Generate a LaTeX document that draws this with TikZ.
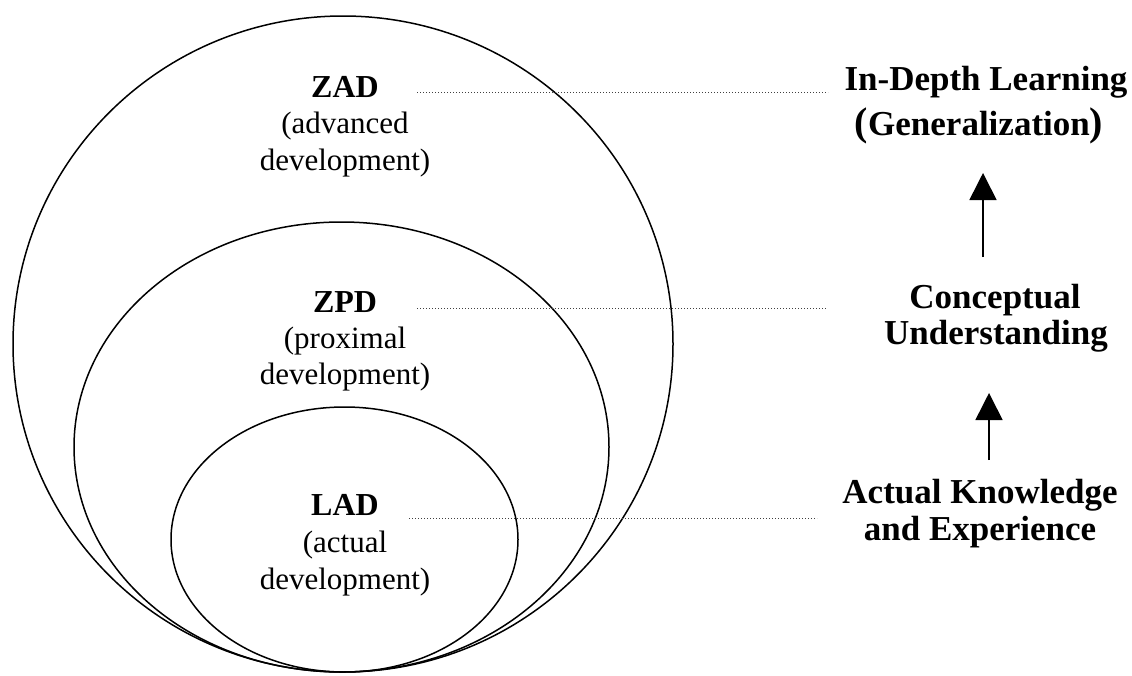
\documentclass[tikz,border=0pt]{standalone}
\usepackage{fontspec}
\setmainfont{Liberation Serif}
\usetikzlibrary{arrows.meta}
\newcommand{\bigparen}[1]{{\fontsize{40}{41}\selectfont #1}}
\begin{document}
\begin{tikzpicture}[x=1pt,y=-1pt,
  zone/.style={line width=1.5pt},
  tag/.style={font=\fontsize{32}{38}\selectfont\bfseries, anchor=base, inner sep=0pt},
  sub/.style={font=\fontsize{31}{37}\selectfont, anchor=base, inner sep=0pt},
  stage/.style={font=\fontsize{35}{41}\selectfont\bfseries, anchor=base, inner sep=0pt},
  dotline/.style={line width=1.2pt, black!75, dash pattern=on 1.3pt off 1.7pt},
  rise/.style={line width=1.6pt, -{Triangle[width=27pt,length=27pt]}}]
\useasboundingbox (0,0) rectangle (1132,675);

% nested zones, all touching at the bottom
\draw[zone] (343,344) ellipse [x radius=330pt, y radius=328pt];
\draw[zone] (341.5,447) ellipse [x radius=267.5pt, y radius=225pt];
\draw[zone] (344.5,539.5) ellipse [x radius=173.5pt, y radius=132.5pt];

% zone labels
\node[tag] (zad) at (345,97) {ZAD};
\node[sub] (zad1) at (345,133) {(advanced};
\node[sub] (zad2) at (345,170) {development)};

\node[tag] (zpd) at (345,312) {ZPD};
\node[sub] (zpd1) at (345,348) {(proximal};
\node[sub] (zpd2) at (345,384) {development)};

\node[tag] (lad) at (345,515) {LAD};
\node[sub] (lad1) at (345,552) {(actual};
\node[sub] (lad2) at (345,589) {development)};

% learning stages
\node[stage] (deep) at (986,90) {In-Depth Learning};
\node[stage] (deep1) at (979,135) {\bigparen{(}Generalization\bigparen{)}};

\node[stage] (conc) at (995,308) {Conceptual};
\node[stage] (conc1) at (996,344) {Understanding};

\node[stage] (act) at (980,503) {Actual Knowledge};
\node[stage] (act1) at (980,540) {and Experience};

% dotted links
\coordinate (zadR) at (417,92.7);
\coordinate (deepL) at (828,92.7);
\coordinate (zpdR) at (417,308.5);
\coordinate (concL) at (827,308.5);
\coordinate (ladR) at (409,518.5);
\coordinate (actL) at (817,518.5);
\draw[dotline] (zadR) -- (deepL);
\draw[dotline] (zpdR) -- (concL);
\draw[dotline] (ladR) -- (actL);

% progression arrows
\coordinate (a1s) at (983,257);
\coordinate (a1e) at (983,173);
\coordinate (a2s) at (989,460);
\coordinate (a2e) at (989,393);
\draw[rise] (a1s) -- (a1e);
\draw[rise] (a2s) -- (a2e);
\end{tikzpicture}
\end{document}
